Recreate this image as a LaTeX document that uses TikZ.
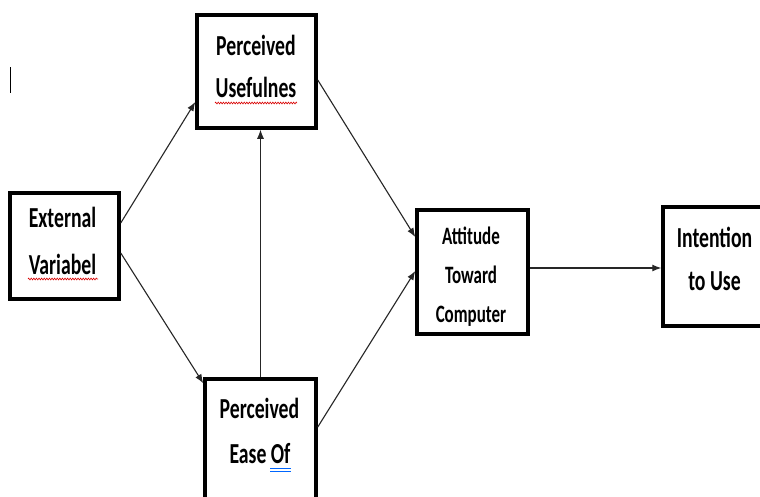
\documentclass[tikz,border=0pt]{standalone}
\usepackage{fontspec}
\newfontfamily\boxfont[FakeStretch=0.68]{Carlito}
\usetikzlibrary{arrows.meta,decorations.pathmorphing}
\begin{document}
\begin{tikzpicture}[x=1pt,y=-1pt,
  box/.style={draw=black,line width=3.5pt,rectangle,inner sep=0pt,fill=white},
  txt/.style={anchor=base,inner sep=0pt,font=\boxfont\bfseries\fontsize{29}{31}\selectfont},
  stxt/.style={anchor=base,inner sep=0pt,font=\boxfont\bfseries\fontsize{25}{27}\selectfont},
  arr/.style={line width=1.1pt,draw=black!85,-{Latex[length=9pt,width=7pt]}},
  squig/.style={draw=red!85!black,line width=0.6pt,decorate,decoration={zigzag,amplitude=0.9pt,segment length=2.6pt}},
  dbl/.style={draw=blue!60!cyan,line width=0.8pt}]
\useasboundingbox (0,0) rectangle (760,496);
\fill[white] (0,0) rectangle (760,496);
% boxes
\node[box,minimum width=119pt,minimum height=113pt] (pu) at (256.5,71.5) {};
\node[box,minimum width=109pt,minimum height=106pt] (ext) at (64.5,246) {};
\node[box,minimum width=111pt,minimum height=122pt] (peo) at (260.5,440) {};
\node[box,minimum width=111pt,minimum height=124pt] (att) at (472.5,272) {};
\node[box,minimum width=110pt,minimum height=119pt] (int) at (718,266.5) {};
% texts
\node[txt] (pu1) at (256,55) {Perceived};
\node[txt] (pu2) at (256,97) {Usefulnes};
\node[txt] (ext1) at (62.5,227) {External};
\node[txt] (ext2) at (62.5,274) {Variabel};
\node[txt] (peo1) at (259.5,418) {Perceived};
\node[txt] (peo2) at (260,463) {Ease Of};
\node[stxt] (att1) at (471,244) {Attitude};
\node[stxt] (att2) at (471,283) {Toward};
\node[stxt] (att3) at (471,322) {Computer};
\node[txt] (int1) at (714.5,247) {Intention};
\node[txt] (int2) at (714.5,290) {to Use};
% underlines
\coordinate (s1a) at (215,103); \coordinate (s1b) at (297,103);
\draw[squig] (s1a) -- (s1b);
\coordinate (s2a) at (28,279); \coordinate (s2b) at (98,279);
\draw[squig] (s2a) -- (s2b);
\coordinate (d1a) at (270,468); \coordinate (d1b) at (291,468);
\coordinate (d2a) at (270,471.5); \coordinate (d2b) at (291,471.5);
\draw[dbl] (d1a) -- (d1b);
\draw[dbl] (d2a) -- (d2b);
% cursor
\coordinate (c1) at (10,67); \coordinate (c2) at (10,93);
\draw[line width=1pt,black] (c1) -- (c2);
% connectors
\draw[arr] ([yshift=23pt]ext.east) -- ([yshift=-30.5pt]pu.west);
\draw[arr] ([yshift=-7pt]ext.east) -- ([yshift=-6pt]peo.north west);
\draw[arr] (peo.north) -- (peo.north |- pu.south);
\draw[arr] ([yshift=-8.5pt]pu.east) -- ([yshift=35pt]att.west);
\draw[arr] ([yshift=13pt]peo.east) -- ([yshift=1pt]att.west);
\draw[arr] ([yshift=4pt]att.east) -- ([yshift=4pt]att.east -| int.west);
\end{tikzpicture}
\end{document}
